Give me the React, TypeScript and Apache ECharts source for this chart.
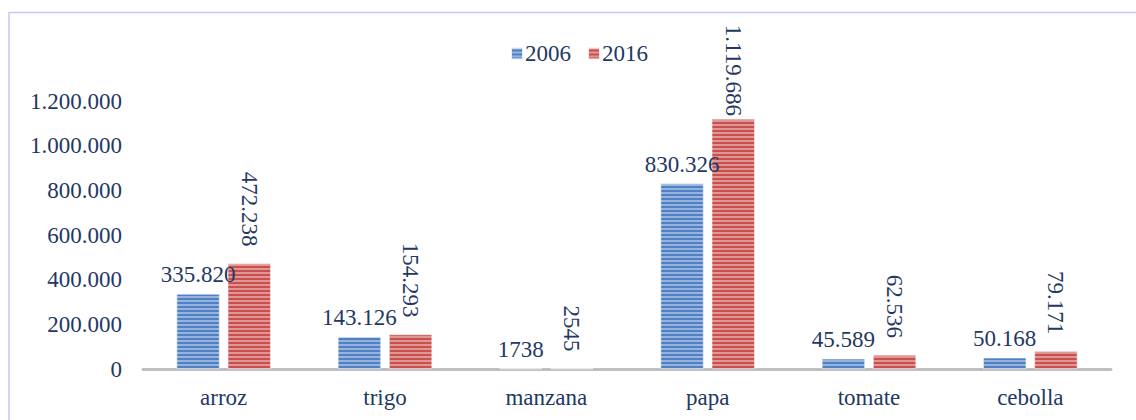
import React, { useEffect, useRef } from "react";
import * as echarts from "echarts";

const categories = ["arroz", "trigo", "manzana", "papa", "tomate", "cebolla"];
const values2006 = [335820, 143126, 1738, 830326, 45589, 50168];
const values2016 = [472238, 154293, 2545, 1119686, 62536, 79171];
const seriesNames = ["2006", "2016"];
const yTicks = { min: 0, max: 1200000, interval: 200000 };

const FONT = "Liberation Serif";
const TEXT = "#1f3864";

const fmt = (v: number) => {
  const s = String(Math.round(v));
  if (v < 10000) return s;
  return s.replace(/\B(?=(\d{3})+(?!\d))/g, ".");
};

const stripes = (color: string) => ({
  color,
  decal: {
    symbol: "rect",
    symbolSize: 1,
    dashArrayX: [1, 0],
    dashArrayY: [1.6, 1.8],
    color: "rgba(255,255,255,0.4)",
    rotation: 0,
  },
  borderColor: "rgba(255,255,255,0.6)",
  borderWidth: 0.5,
});

export default function App() {
  const ref = useRef<HTMLDivElement>(null);
  useEffect(() => {
    document.body.style.margin = "0";
    const chart = echarts.init(ref.current!, null, { renderer: "svg" });
    chart.setOption({
      animation: false,
      backgroundColor: "#ffffff",
      textStyle: { fontFamily: FONT, color: TEXT },
      graphic: [
        {
          type: "rect",
          shape: { x: 9, y: 12.5, width: 1300, height: 600 },
          style: { fill: "none", stroke: "#c6c6fb", lineWidth: 1.5 },
          silent: true,
          z: -1,
        },
      ],
      legend: {
        data: seriesNames,
        left: 505,
        top: 37,
        itemWidth: 12,
        itemHeight: 12,
        itemGap: 16,
        icon: "rect",
        textStyle: { fontFamily: FONT, fontSize: 23, color: TEXT, padding: [0, 0, 0, -3] },
      },
      grid: { left: 143, right: 25, top: 101, bottom: 51, containLabel: false },
      xAxis: {
        type: "category",
        data: categories,
        axisLine: { lineStyle: { color: "#bfbfbf", width: 3 } },
        axisTick: { show: false },
        axisLabel: { fontFamily: FONT, fontSize: 23, color: TEXT, margin: 17 },
      },
      yAxis: {
        type: "value",
        min: yTicks.min,
        max: yTicks.max,
        interval: yTicks.interval,
        axisLine: { show: false },
        axisTick: { show: false },
        splitLine: { show: false },
        axisLabel: {
          fontFamily: FONT,
          fontSize: 23,
          color: TEXT,
          margin: 21,
          formatter: (v: number) => fmt(v),
        },
      },
      series: [
        {
          name: seriesNames[0],
          type: "bar",
          data: values2006,
          barWidth: 43,
          barGap: "19%",
          itemStyle: stripes("#4f81c4"),
          label: {
            show: true,
            position: "top",
            distance: 8,
            fontFamily: FONT,
            fontSize: 23,
            color: TEXT,
            formatter: (p: any) => fmt(p.value),
          },
        },
        {
          name: seriesNames[1],
          type: "bar",
          data: values2016.map((v, i) =>
            categories[i] === "papa"
              ? { value: v, label: { distance: 3 } }
              : v
          ),
          barWidth: 43,
          barGap: "19%",
          itemStyle: stripes("#c9504d"),
          label: {
            show: true,
            position: "top",
            distance: 17,
            rotate: -90,
            align: "right",
            verticalAlign: "middle",
            fontFamily: FONT,
            fontSize: 23,
            color: TEXT,
            formatter: (p: any) => fmt(p.value),
          },
        },
      ],
    });
    return () => chart.dispose();
  }, []);
  return <div ref={ref} style={{ width: 1136, height: 420 }} />;
}
